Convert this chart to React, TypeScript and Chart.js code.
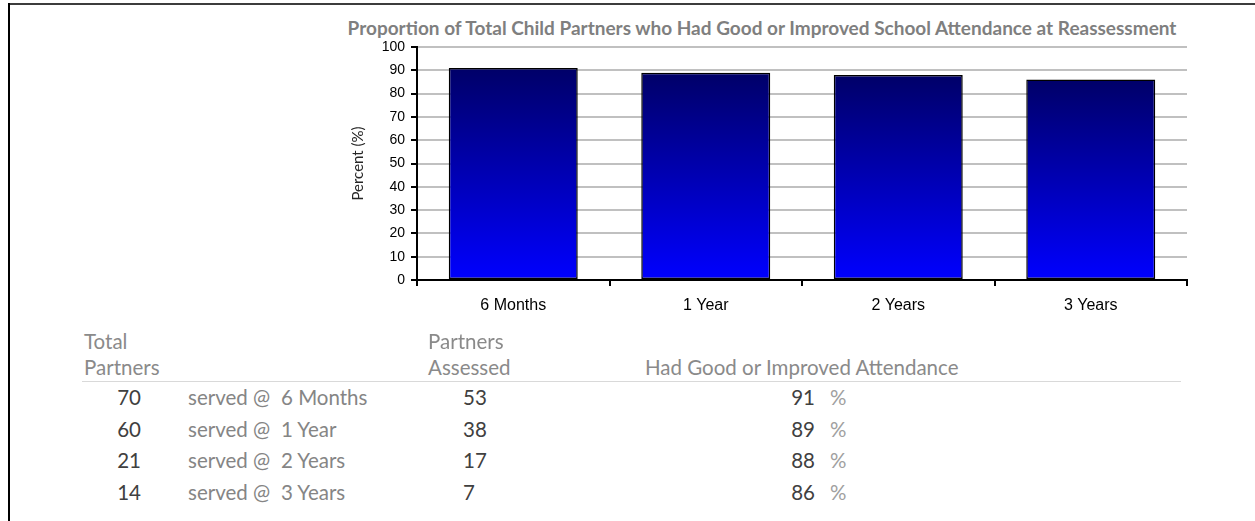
import React, { useEffect, useRef } from 'react';
import { Chart, registerables } from 'chart.js';

Chart.register(...registerables);

// ---- data ----
const categories = ['6 Months', '1 Year', '2 Years', '3 Years'];
const attendancePct = [91, 89, 88, 86];
const totalPartners = [70, 60, 21, 14];
const partnersAssessed = [53, 38, 17, 7];
const yMin = 0;
const yMax = 100;
const yStep = 10;

const chartTitle =
  'Proportion of Total Child Partners who Had Good or Improved School Attendance at Reassessment';
const yAxisTitle = 'Percent (%)';
const headerTotal = ['Total', 'Partners'];
const headerAssessed = ['Partners', 'Assessed'];
const headerAttendance = 'Had Good or Improved Attendance';
const servedLabel = 'served @';
const pctSign = '%';

const tableFont = 'Lato, "Open Sans", sans-serif';
const axisFont = '"Liberation Sans", Arial, sans-serif';

export default function App() {
  const canvasRef = useRef<HTMLCanvasElement | null>(null);

  useEffect(() => {
    const canvas = canvasRef.current;
    if (!canvas) return;
    const chart = new Chart(canvas, {
      type: 'bar',
      data: {
        labels: categories,
        datasets: [
          {
            data: attendancePct,
            backgroundColor: (ctx: any) => {
              const c = ctx.chart;
              if (!c.chartArea || ctx.type !== 'data') return '#0000b0';
              const ys = c.scales.y;
              const top = ys.getPixelForValue(ctx.raw as number);
              const bottom = ys.getPixelForValue(0);
              const g = c.ctx.createLinearGradient(0, top, 0, bottom);
              g.addColorStop(0, '#000068');
              g.addColorStop(1, '#0000ff');
              return g;
            },
            borderColor: '#000000',
            borderWidth: 1.5,
            borderSkipped: false,
            barPercentage: 0.67,
            categoryPercentage: 1,
          },
        ],
      },
      options: {
        responsive: false,
        animation: false,
        devicePixelRatio: 1,
        layout: { padding: { left: 0, top: 17, right: 23, bottom: 0 } },
        plugins: {
          legend: { display: false },
          title: { display: false },
          tooltip: { enabled: false },
        },
        scales: {
          x: {
            grid: {
              drawOnChartArea: false,
              offset: true,
              drawTicks: true,
              tickLength: 6,
              tickColor: '#000000',
              lineWidth: 2,
            },
            border: { color: '#000000', width: 2 },
            ticks: {
              font: { family: axisFont, size: 16 },
              color: '#000000',
              padding: 10,
              maxRotation: 0,
            },
            afterFit: (s: any) => {
              s.height = 50;
            },
          },
          y: {
            min: yMin,
            max: yMax,
            ticks: {
              stepSize: yStep,
              font: { family: axisFont, size: 14 },
              color: '#000000',
              padding: 6,
            },
            grid: {
              color: '#c0c0c0',
              lineWidth: 2,
              drawTicks: true,
              tickLength: 6,
              tickColor: '#000000',
            },
            border: { color: '#000000', width: 2 },
            title: {
              display: true,
              text: yAxisTitle,
              font: { family: tableFont, size: 15 },
              color: '#262626',
              padding: { top: 19, bottom: 0 },
            },
            afterFit: (s: any) => {
              s.width = 87;
            },
          },
        },
      },
    });
    return () => chart.destroy();
  }, []);

  const textBase: React.CSSProperties = {
    position: 'absolute',
    fontFamily: tableFont,
    fontSize: 20.5,
    lineHeight: '24px',
    whiteSpace: 'nowrap',
  };
  const headColor = '#8a8a8a';
  const numColor = '#404040';
  const labelColor = '#858585';
  const rowTop = (i: number) => 385 + i * 31.5;

  return (
    <div
      style={{
        position: 'fixed',
        left: 0,
        top: 0,
        width: 1255,
        height: 521,
        background: '#ffffff',
        overflow: 'hidden',
      }}
    >
      {/* frame */}
      <div style={{ position: 'absolute', left: 8, top: 3, width: 1247, height: 2, background: '#3c3c3c' }} />
      <div style={{ position: 'absolute', left: 8, top: 3, width: 2, height: 518, background: '#000000' }} />

      {/* title */}
      <div
        style={{
          position: 'absolute',
          left: 262,
          width: 1000,
          top: 16,
          textAlign: 'center',
          fontFamily: tableFont,
          fontWeight: 700,
          fontSize: 19,
          lineHeight: '24px',
          color: '#7f7f7f',
          whiteSpace: 'nowrap',
        }}
      >
        {chartTitle}
      </div>

      <canvas
        ref={canvasRef}
        width={880}
        height={300}
        style={{ position: 'absolute', left: 330, top: 30, width: 880, height: 300 }}
      />

      {/* table headers */}
      <div style={{ ...textBase, left: 84, top: 329, color: headColor }}>{headerTotal[0]}</div>
      <div style={{ ...textBase, left: 84, top: 355, color: headColor }}>{headerTotal[1]}</div>
      <div style={{ ...textBase, left: 428, top: 329, color: headColor }}>{headerAssessed[0]}</div>
      <div style={{ ...textBase, left: 428, top: 355, color: headColor }}>{headerAssessed[1]}</div>
      <div style={{ ...textBase, left: 645, top: 355, color: headColor }}>{headerAttendance}</div>
      <div style={{ position: 'absolute', left: 82, top: 381, width: 1099, height: 1, background: '#d9d9d9' }} />

      {/* table rows */}
      {categories.map((cat, i) => (
        <React.Fragment key={cat}>
          <div style={{ ...textBase, left: 60, width: 81, textAlign: 'right', top: rowTop(i), color: numColor }}>
            {totalPartners[i]}
          </div>
          <div style={{ ...textBase, left: 188, top: rowTop(i), color: labelColor }}>{servedLabel}</div>
          <div style={{ ...textBase, left: 281, top: rowTop(i), color: labelColor }}>{cat}</div>
          <div style={{ ...textBase, left: 463, top: rowTop(i), color: numColor }}>{partnersAssessed[i]}</div>
          <div style={{ ...textBase, left: 715, width: 100, textAlign: 'right', top: rowTop(i), color: numColor }}>
            {attendancePct[i]}
          </div>
          <div style={{ ...textBase, left: 830, top: rowTop(i), color: '#a0a0a0' }}>{pctSign}</div>
        </React.Fragment>
      ))}
    </div>
  );
}
